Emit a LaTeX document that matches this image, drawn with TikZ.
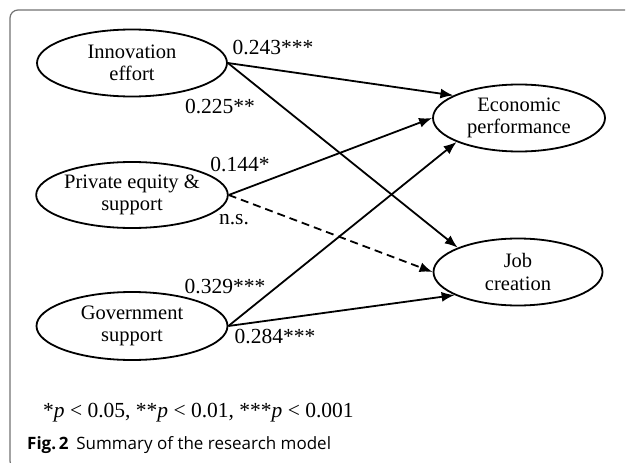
\documentclass[tikz,border=0pt]{standalone}
\usepackage{fontspec}
\setmainfont{Liberation Serif}
\newfontfamily\capfont{Open Sans}
\usetikzlibrary{arrows.meta,shapes.geometric}
\begin{document}
\begin{tikzpicture}[x=1pt,y=-1pt,
  var/.style={ellipse, draw, line width=1.8pt, inner sep=0pt, align=center,
    font=\fontsize{20.5}{22.5}\selectfont},
  link/.style={line width=1.8pt, -{Latex[length=13pt,width=10pt]}},
  nslink/.style={link, dash pattern=on 8pt off 5pt},
  coef/.style={font=\fontsize{21.5}{23}\selectfont, inner sep=0pt},
  frame/.style={draw=black!55, line width=1.2pt, rounded corners=8pt}
]
\useasboundingbox (0,0) rectangle (627,463);
\fill[white] (0,0) rectangle (627,463);
\begin{scope}
  \clip (0,0) rectangle (627,463);
  \draw[frame] (625,10) -- (10,10) -- (10,469) -- (40,469);
\end{scope}

\node[var, minimum width=190pt, minimum height=67pt] (inn) at (132,63) {Innovation\\effort};
\node[var, minimum width=190pt, minimum height=66pt] (pri) at (132,195) {Private equity \&\\support};
\node[var, minimum width=191pt, minimum height=68pt] (gov) at (132,326) {Government\\support};
\node[var, minimum width=172pt, minimum height=67pt] (eco) at (519,118) {Economic\\performance};
\node[var, minimum width=169pt, minimum height=67pt] (job) at (518,272) {Job\\creation};

\draw[link] (inn.east) -- (eco.161);
\draw[link] (inn.east) -- (job.158);
\draw[link] (pri.east) -- (eco.west);
\draw[nslink] (pri.east) -- (job.west);
\draw[link] (gov.east) -- (eco.201);
\draw[link] (gov.east) -- (job.200);

\node[coef] (c1) at (273,48) {0.243***};
\node[coef] (c2) at (220,107) {0.225**};
\node[coef] (c3) at (240,165) {0.144*};
\node[coef] (c4) at (234,220) {n.s.};
\node[coef] (c5) at (225,287) {0.329***};
\node[coef] (c6) at (275,337) {0.284***};

\node[anchor=base west, inner sep=0pt, font=\fontsize{21.5}{24}\selectfont] (note) at (43,417)
  {*\textit{p} < 0.05, **\textit{p} < 0.01, ***\textit{p} < 0.001};
\node[anchor=base west, inner sep=0pt, font=\capfont\fontsize{17}{20}\selectfont] (cap) at (27,449)
  {\textbf{Fig.\,2}\hspace{0.45em}Summary of the research model};
\end{tikzpicture}
\end{document}
